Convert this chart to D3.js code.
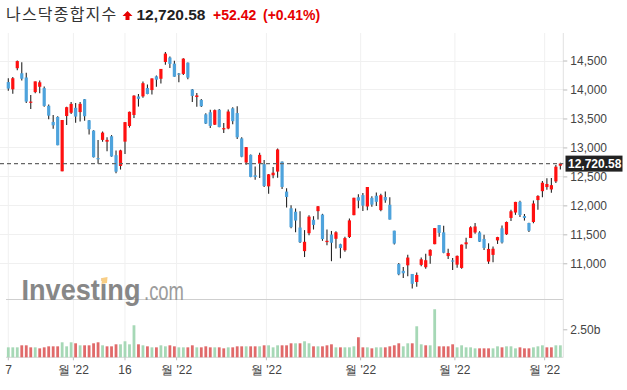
<!DOCTYPE html>
<html><head><meta charset="utf-8">
<script src="https://cdn.jsdelivr.net/npm/d3@7"></script>
<style>html,body{margin:0;padding:0;background:#fff;} svg{display:block}</style>
</head><body>
<svg id="c" width="627" height="390"></svg>
<script>
const dates = ["02-07","02-08","02-09","02-10","02-11","02-14","02-15","02-16","02-17","02-18","02-22","02-23","02-24","02-25","02-28",
"03-01","03-02","03-03","03-04","03-07","03-08","03-09","03-10","03-11","03-14","03-15","03-16","03-17","03-18","03-21","03-22","03-23","03-24","03-25","03-28","03-29","03-30","03-31",
"04-01","04-04","04-05","04-06","04-07","04-08","04-11","04-12","04-13","04-14","04-18","04-19","04-20","04-21","04-22","04-25","04-26","04-27","04-28","04-29",
"05-02","05-03","05-04","05-05","05-06","05-09","05-10","05-11","05-12","05-13","05-16","05-17","05-18","05-19","05-20","05-23","05-24","05-25","05-26","05-27","05-31",
"06-01","06-02","06-03","06-06","06-07","06-08","06-09","06-10","06-13","06-14","06-15","06-16","06-17","06-21","06-22","06-23","06-24","06-27","06-28","06-29","06-30",
"07-01","07-05","07-06","07-07","07-08","07-11","07-12","07-13","07-14","07-15","07-18","07-19","07-20","07-21","07-22","07-25","07-26","07-27","07-28","07-29",
"08-01","08-02","08-03","08-04"];
const opens = [14128,14003,14367,14280,14207,13779,13955,14047,14024,13718,13440,13526,12588,13542,13598,
13684,13610,13832,13468,13290,12816,13130,13099,13193,12866,12680,13100,13370,13560,13879,13881,14025,13990,14227,14185,14475,14551,14446,
14276,14269,14463,14001,13870,13820,13571,13607,13392,13650,13319,13326,13675,13593,13156,12740,12872,12520,12720,12711,
12328,12519,12583,12755,12238,11949,11890,11617,11210,11519,11751,11900,11841,11366,11496,11423,11329,11225,11454,11831,12140,
12177,11981,12130,12166,11918,12144,12011,11563,10987,10870,10965,10816,10677,10973,10932,11130,11330,11661,11534,11125,11050,
10977,10920,11329,11436,11532,11533,11420,11030,11145,11395,11604,11501,11783,11876,12061,11816,11695,11713,12091,12245,
12316,12275,12413,12685];
const highs = [14195,14217,14499,14472,14288,13906,14139,14154,14050,13743,13560,13538,13474,13702,13782,
13765,13784,13834,13475,13298,13130,13277,13175,13213,12945,12960,13437,13619,13902,13922,14139,14085,14191,14241,14354,14646,14569,14497,
14285,14539,14466,14010,13939,13837,13590,13652,13656,13664,13421,13655,13692,13710,13177,13006,12880,12670,12909,12781,
12543,12660,12982,12758,12296,12001,11944,11899,11573,11830,11813,11989,11854,11585,11558,11553,11339,11460,11775,12131,12190,
12213,12317,12158,12224,12199,12239,12140,11563,11007,10935,11148,10816,10839,11100,11165,11243,11608,11662,11646,11252,11093,
11134,11323,11441,11641,11697,11555,11492,11345,11292,11457,11652,11721,11926,12061,12081,11851,11702,12082,12176,12420,
12470,12474,12698,12735];
const lows = [13979,13925,14332,14155,13768,13663,13937,13933,13702,13486,13321,13037,12587,13386,13575,
13424,13446,13462,13221,12825,12717,13100,12936,12839,12555,12618,12886,13342,13508,13705,13859,13919,13913,14047,14104,14425,14373,14219,
14123,14251,14175,13784,13700,13697,13405,13336,13387,13350,13247,13314,13399,13146,12831,12701,12485,12442,12472,12315,
12202,12467,12478,12284,11963,11605,11534,11349,11108,11484,11583,11756,11388,11310,11036,11254,11089,11201,11436,11831,11948,
11904,11915,11975,11987,11898,12045,11754,11325,10792,10745,10776,10565,10597,10950,10908,10993,11330,11460,11175,11076,10883,
10925,10905,11253,11436,11510,11367,11230,10990,11016,11334,11343,11490,11729,11836,11800,11737,11540,11693,11926,12142,
12271,12217,12386,12617];
const closes = [14015.67,14194.46,14490.37,14185.64,13791.15,13790.92,14139.76,14124.09,13716.72,13548.07,13381.52,13037.49,13473.59,13694.62,13751.40,
13532.46,13752.02,13537.94,13313.44,12830.96,12795.55,13255.55,13129.96,12843.81,12581.22,12948.62,13436.55,13614.78,13893.84,13838.46,14108.82,13922.60,14191.84,14169.30,14354.90,14619.64,14442.27,14220.52,
14261.50,14532.55,14204.17,13888.82,13897.30,13711.00,13411.96,13371.57,13643.59,13351.08,13332.36,13619.66,13453.07,13174.65,12839.29,13004.85,12490.74,12488.93,12871.53,12334.64,
12536.02,12563.76,12964.86,12317.69,12144.66,11623.25,11737.67,11364.24,11370.96,11805.00,11662.79,11984.52,11418.15,11388.50,11354.62,11535.27,11264.45,11434.74,11740.65,12131.13,12081.39,
11994.46,12316.90,12012.73,12061.37,12175.23,12086.27,11754.23,11340.02,10809.23,10828.35,11099.15,10646.10,10798.35,11069.30,11053.08,11232.19,11607.62,11524.55,11181.54,11177.89,11028.74,
11127.85,11322.24,11361.85,11621.35,11635.31,11372.60,11264.73,11247.58,11251.19,11452.42,11360.05,11713.15,11897.65,12059.61,11834.11,11782.67,11562.58,12032.42,12162.59,12390.69,
12368.98,12348.76,12668.16,12720.58];
const volumes = [0.89,0.89,0.89,1.07,1.07,0.89,0.89,0.80,0.89,0.98,
0.98,0.98,1.34,0.98,1.34,1.25,1.07,1.07,1.07,1.25,
1.34,1.07,0.98,0.98,1.16,1.16,1.43,1.16,2.86,1.16,
1.07,0.98,0.89,0.89,1.07,0.98,1.07,0.98,0.89,0.89,
0.89,1.07,0.89,0.89,0.98,0.89,0.89,0.89,0.80,0.89,
0.89,0.98,0.98,0.98,0.98,0.98,0.98,1.07,1.07,0.89,
1.07,1.07,1.07,1.25,1.25,1.25,1.43,1.25,0.98,0.98,
0.98,1.07,1.16,0.89,0.89,0.89,0.89,0.98,1.79,0.89,
0.89,0.80,0.89,0.89,0.89,0.98,1.07,1.25,0.98,1.25,
1.25,2.77,1.16,1.07,1.07,4.29,0.98,0.98,0.98,1.16,
0.89,1.07,0.89,0.89,0.80,0.80,0.80,0.80,0.80,0.98,
0.89,0.98,0.98,0.80,0.89,0.80,0.80,0.89,0.98,1.07,
0.89,0.89,1.07,1.07];
const priceTicks = [11000,11500,12000,12500,13000,13500,14000,14500];
const volumeTicks = [2.5];
const xTickDates = ["02-07","03-01","03-16","04-01","05-02","06-01","07-01","08-01"];
const xTickLabels = ["7","월 '22","16","월 '22","월 '22","월 '22","월 '22","월 '22"];
const titleText = "나스닥종합지수";
const lastPrice = 12720.58, change = 52.42, changePct = 0.41;

const W = 627, H = 390;
const svg = d3.select("#c");
svg.append("rect").attr("width", W).attr("height", H).attr("fill", "#fff");

const UP = "#ff1010", DOWN = "#4ea3dc", WICK = "#262626";
const VUP = "#a6d8b6", VDOWN = "#e06a6a";
const AX = "#444";
const FONT = "'Liberation Sans', Arial, sans-serif";

const plotRight = 563.3, paneTop = 33, priceBottom = 298, volBottom = 357.3;
const x = d3.scaleBand().domain(dates).range([6.06, 562.6]).padding(0);
const step = x.step();
const cx = d => x(d) + step / 2;
const y = d3.scaleLinear().domain([10401, 14975]).range([priceBottom, paneTop]);
const yv = d3.scaleLinear().domain([0, 2.5]).range([volBottom, 329.3]);

const tickX = (d, i) => xTickLabels[i].includes("월") ? x(d) : cx(d);

// grid
const grid = svg.append("g");
grid.selectAll("line.h").data(priceTicks).join("line")
  .attr("x1", 0).attr("x2", plotRight).attr("y1", d => Math.round(y(d)) + 0.5).attr("y2", d => Math.round(y(d)) + 0.5)
  .attr("stroke", "#f0f0f0").attr("stroke-width", 1);
grid.selectAll("line.v").data(xTickDates).join("line")
  .attr("x1", (d, i) => tickX(d, i)).attr("x2", (d, i) => tickX(d, i)).attr("y1", paneTop).attr("y2", volBottom)
  .attr("stroke", "#f0f0f0").attr("stroke-width", 1);

// pane separator and bottom line
svg.append("line").attr("x1", 6).attr("x2", plotRight).attr("y1", 299.5).attr("y2", 299.5).attr("stroke", "#cfcfcf");
svg.append("line").attr("x1", 6).attr("x2", plotRight).attr("y1", volBottom).attr("y2", volBottom).attr("stroke", "#d8d8d8");
svg.append("line").attr("x1", plotRight).attr("x2", plotRight).attr("y1", paneTop).attr("y2", volBottom).attr("stroke", "#e2e2e2");

// Logo
const logo = svg.append("g").attr("opacity", 0.85);
logo.append("text").attr("x", 21.5).attr("y", 300).attr("font-family", FONT).attr("font-weight", "bold")
  .attr("font-size", 29).attr("textLength", 119).attr("lengthAdjust", "spacingAndGlyphs").attr("fill", "#737373").text("Investing");
logo.append("text").attr("x", 144).attr("y", 300).attr("font-family", FONT)
  .attr("font-size", 25).attr("textLength", 40).attr("lengthAdjust", "spacingAndGlyphs").attr("fill", "#8c8c8c").text(".com");
logo.append("path").attr("d", "M102,278 L107.5,277 L107,283 L101.5,284 Z").attr("fill", "#f8c66f");

// volume bars
const vcol = (i) => (i === 0 || closes[i] >= closes[i - 1]) ? VUP : VDOWN;
svg.append("g").selectAll("rect").data(dates).join("rect")
  .attr("x", d => cx(d) - 1.4).attr("width", 2.8)
  .attr("y", (d, i) => yv(volumes[i])).attr("height", (d, i) => volBottom - yv(volumes[i]))
  .attr("fill", (d, i) => vcol(i));

// candles
const cg = svg.append("g");
cg.selectAll("line").data(dates).join("line")
  .attr("x1", d => cx(d)).attr("x2", d => cx(d))
  .attr("y1", (d, i) => y(highs[i])).attr("y2", (d, i) => y(lows[i]))
  .attr("stroke", WICK).attr("stroke-width", 1.1);
cg.selectAll("rect").data(dates).join("rect")
  .attr("x", d => cx(d) - 1.6).attr("width", 3.2)
  .attr("y", (d, i) => y(Math.max(opens[i], closes[i])))
  .attr("height", (d, i) => Math.max(1.2, Math.abs(y(opens[i]) - y(closes[i]))))
  .attr("fill", (d, i) => closes[i] >= opens[i] ? UP : DOWN);

// right price axis
const ra = svg.append("g").attr("transform", `translate(${plotRight},0)`)
  .call(d3.axisRight(y).tickValues(priceTicks).tickSize(4).tickPadding(3).tickFormat(d3.format(",")));
ra.select(".domain").remove();
ra.selectAll("line").attr("stroke", "#bbb");
ra.selectAll("text").attr("font-family", FONT).attr("font-size", 12).attr("fill", AX);

const va = svg.append("g").attr("transform", `translate(${plotRight},0)`)
  .call(d3.axisRight(yv).tickValues(volumeTicks).tickSize(4).tickPadding(3).tickFormat(d => d.toFixed(2) + "b"));
va.select(".domain").remove();
va.selectAll("line").attr("stroke", "#bbb");
va.selectAll("text").attr("font-family", FONT).attr("font-size", 12).attr("fill", AX);

// bottom x axis labels
const xa = svg.append("g");
xa.selectAll("line").data(xTickDates).join("line")
  .attr("x1", (d, i) => tickX(d, i)).attr("x2", (d, i) => tickX(d, i)).attr("y1", volBottom).attr("y2", volBottom + 3)
  .attr("stroke", "#bbb");
xa.selectAll("text").data(xTickDates).join("text")
  .attr("x", (d, i) => tickX(d, i)).attr("y", 374)
  .attr("text-anchor", (d, i) => i === 0 ? "start" : "middle")
  .attr("dx", (d, i) => i === 0 ? -3 : 0)
  .attr("font-family", FONT).attr("font-size", 12).attr("fill", AX)
  .text((d, i) => xTickLabels[i]);

// last price dashed line & label
svg.append("line").attr("x1", 0).attr("x2", plotRight).attr("y1", y(lastPrice)).attr("y2", y(lastPrice))
  .attr("stroke", "#666").attr("stroke-width", 1.3).attr("stroke-dasharray", "4,3");
svg.append("rect").attr("x", 565.5).attr("y", y(lastPrice) - 8).attr("width", 57).attr("height", 16).attr("fill", "#222");
svg.append("text").attr("x", 568).attr("y", y(lastPrice) + 4.3).attr("font-family", FONT).attr("font-weight", "bold")
  .attr("font-size", 12).attr("fill", "#fff").text(d3.format(",.2f")(lastPrice));

// header
svg.append("text").attr("x", 6).attr("y", 19.5).attr("font-family", "'Noto Sans CJK KR', sans-serif")
  .attr("font-size", 16).attr("letter-spacing", 1.2).attr("fill", "#333").text(titleText);
svg.append("path").attr("d", "M127.5,11 L132.5,16 L129.5,16 L129.5,20 L125.5,20 L125.5,16 L122.5,16 Z").attr("fill", "#e60000");
svg.append("text").attr("x", 136.5).attr("y", 19.5).attr("font-family", FONT).attr("font-weight", "bold")
  .attr("font-size", 15.5).attr("fill", "#222").text(d3.format(",.2f")(lastPrice));
svg.append("text").attr("x", 213).attr("y", 19.5).attr("font-family", FONT).attr("font-weight", "bold")
  .attr("font-size", 14).attr("fill", "#e60000").text("+" + change.toFixed(2));
svg.append("text").attr("x", 263).attr("y", 19.5).attr("font-family", FONT).attr("font-weight", "bold")
  .attr("font-size", 14).attr("fill", "#e60000").text("(+" + changePct.toFixed(2) + "%)");
</script>
</body></html>
